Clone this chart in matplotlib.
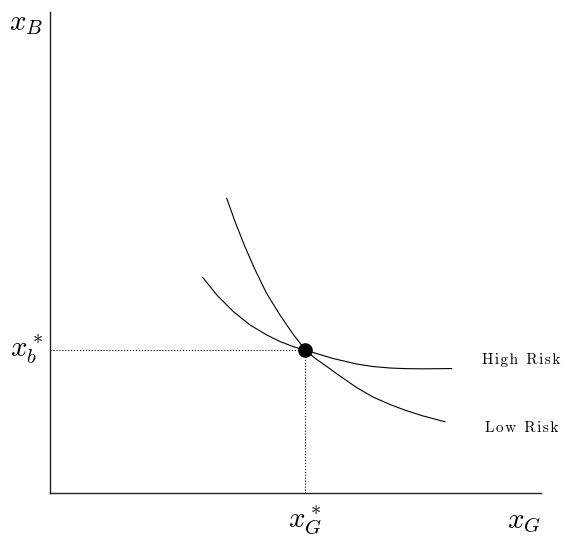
import matplotlib
matplotlib.use("Agg")
import matplotlib.pyplot as plt

plt.rcParams['mathtext.fontset'] = 'cm'

# curves (axes run 0..10 in both directions)
# High Risk: the flatter curve, comes in from the left and levels off
high_x = [3.110, 3.401, 3.733, 4.073, 4.413, 4.684, 4.949, 5.193, 5.499, 5.770,
          6.246, 6.578, 6.925, 7.251, 7.603, 8.181]
high_y = [4.484, 4.112, 3.773, 3.495, 3.287, 3.150, 3.046, 2.973, 2.879, 2.796,
          2.682, 2.630, 2.599, 2.586, 2.582, 2.588]
# Low Risk: the steeper curve, drops from the top and keeps falling
low_x = [3.599, 3.768, 3.971, 4.175, 4.413, 4.684, 4.949, 5.193, 5.377, 5.566,
         5.906, 6.246, 6.578, 6.925, 7.251, 7.603, 8.045]
low_y = [6.127, 5.644, 5.121, 4.647, 4.148, 3.701, 3.306, 2.983, 2.817, 2.682,
         2.432, 2.193, 1.996, 1.840, 1.715, 1.601, 1.482]

# the crossing point
x_star = 5.193
y_star = 2.98

curve_labels = ["High Risk", "Low Risk"]


def spaced(s):
    # loose letter spacing like the original
    return "\u200a".join(s)


fig = plt.figure(figsize=(5.65, 5.38), dpi=100)
ax = fig.add_axes([0.0885, 0.0836, 0.869, 0.894])
ax.set_xlim(0, 10)
ax.set_ylim(0, 10)

ax.plot(high_x, high_y, color='black', lw=0.8)
ax.plot(low_x, low_y, color='black', lw=0.8)

ax.plot([0, x_star], [y_star, y_star], color='black', lw=0.8, linestyle=':')
ax.plot([x_star, x_star], [0, y_star], color='black', lw=0.8, linestyle=':')
ax.plot([x_star], [y_star], 'o', color='black', markersize=9.5, zorder=5)

for side in ['top', 'right']:
    ax.spines[side].set_visible(False)
for side in ['left', 'bottom']:
    ax.spines[side].set_linewidth(1.0)
    ax.spines[side].set_color('#222222')
ax.set_xticks([])
ax.set_yticks([])

fs = 21
ax.text(-0.49, 9.77, r'$x_B$', fontsize=fs, ha='center', va='center')
ax.text(-0.47, y_star, r'$x_b^*$', fontsize=fs, ha='center', va='center')
ax.text(x_star, -0.58, r'$x_G^*$', fontsize=fs, ha='center', va='center')
ax.text(9.66, -0.58, r'$x_G$', fontsize=fs, ha='center', va='center')

ax.text(8.80, 2.77, spaced(curve_labels[0]), fontsize=11, ha='left', va='center',
        family=['cmr10', 'DejaVu Serif'])
ax.text(8.85, 1.35, spaced(curve_labels[1]), fontsize=11, ha='left', va='center',
        family=['cmr10', 'DejaVu Serif'])

fig.savefig('out.png', dpi=100)
